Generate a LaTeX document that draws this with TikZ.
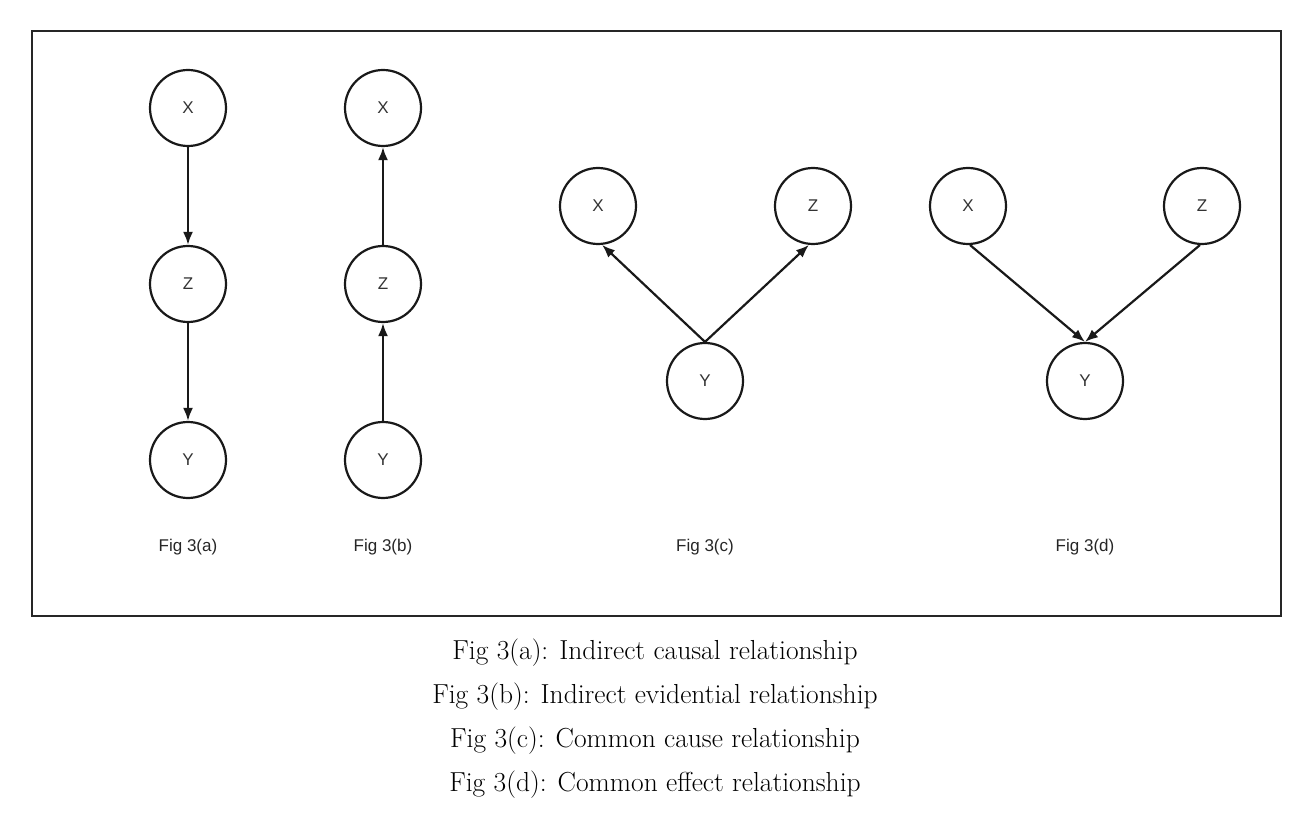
\documentclass[tikz,border=0pt]{standalone}
\usepackage{fontspec}
\newfontfamily\arialfont{Liberation Sans}
\usetikzlibrary{arrows.meta}
\begin{document}
\begin{tikzpicture}[x=1pt,y=-1pt,
  vnode/.style={circle,draw=black!90,line width=2.2pt,minimum size=76pt,inner sep=0pt,font=\arialfont\fontsize{17}{20}\selectfont,text=black!80},
  edge/.style={line width=2.2pt,draw=black!90,-{Latex[length=13pt,width=10pt]}},
  figlabel/.style={font=\arialfont\fontsize{17}{20}\selectfont,text=black!85},
  caption/.style={font=\fontsize{27.5}{33}\selectfont}]
\useasboundingbox (0,0) rectangle (1304,826);
\node[draw=black!85,line width=1.6pt,minimum width=1249pt,minimum height=585pt,inner sep=0pt] (frame) at (656.5,323.5) {};
% Fig 3(a)
\node[vnode] (ax) at (188,108) {X};
\node[vnode] (az) at (188,284) {Z};
\node[vnode] (ay) at (188,460) {Y};
\draw[edge] (ax) -- (az);
\draw[edge] (az) -- (ay);
\node[figlabel] (al) at (188,547) {Fig 3(a)};
% Fig 3(b)
\node[vnode] (bx) at (383,108) {X};
\node[vnode] (bz) at (383,284) {Z};
\node[vnode] (by) at (383,460) {Y};
\draw[edge] (by) -- (bz);
\draw[edge] (bz) -- (bx);
\node[figlabel] (bl) at (383,547) {Fig 3(b)};
% Fig 3(c)
\node[vnode] (cx) at (598,206) {X};
\node[vnode] (cz) at (813,206) {Z};
\node[vnode] (cy) at (705,381) {Y};
\draw[edge] (cy.north) -- (cx.-84);
\draw[edge] (cy.north) -- (cz.-96);
\node[figlabel] (cl) at (705,547) {Fig 3(c)};
% Fig 3(d)
\node[vnode] (dx) at (968,206) {X};
\node[vnode] (dz) at (1202,206) {Z};
\node[vnode] (dy) at (1085,381) {Y};
\draw[edge] (dx.-87) -- (dy.north);
\draw[edge] (dz.-93) -- (dy.north);
\node[figlabel] (dl) at (1085,547) {Fig 3(d)};
% captions
\node[caption] (c1) at (655,653) {Fig 3(a): Indirect causal relationship};
\node[caption] (c2) at (655,697) {Fig 3(b): Indirect evidential relationship};
\node[caption] (c3) at (655,741) {Fig 3(c): Common cause relationship};
\node[caption] (c4) at (655,785) {Fig 3(d): Common effect relationship};
\end{tikzpicture}
\end{document}
